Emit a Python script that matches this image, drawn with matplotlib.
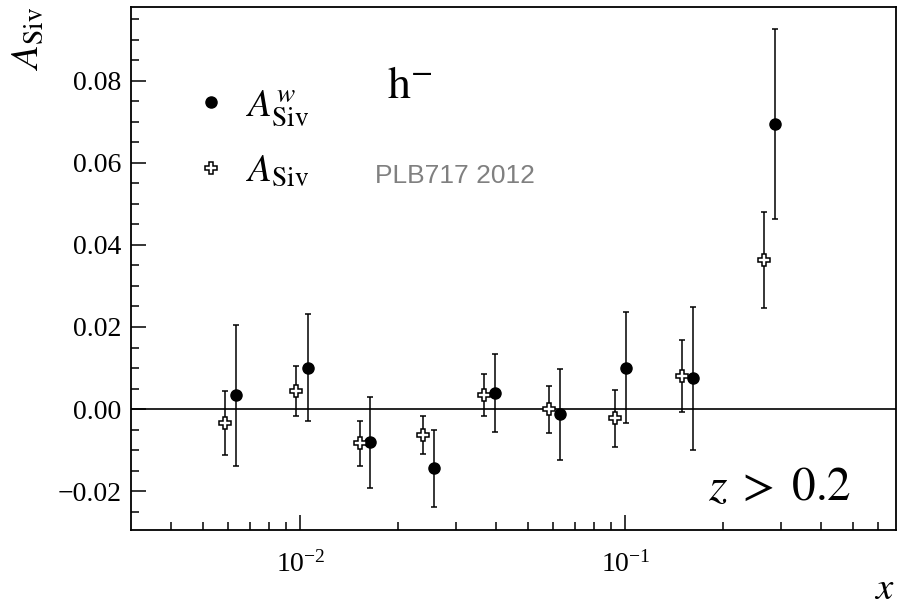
import matplotlib
matplotlib.use("Agg")
import matplotlib.pyplot as plt
from matplotlib.ticker import LogLocator, LogFormatterMathtext, MultipleLocator

plt.rcParams['font.family'] = ['Liberation Serif', 'DejaVu Serif']
plt.rcParams['mathtext.fontset'] = 'stix'

# A_Siv (open crosses)
x_siv = [0.00585, 0.00972, 0.0152, 0.0239, 0.0368, 0.0581, 0.0931, 0.1497, 0.266]
y_siv = [-0.0035, 0.0044, -0.0084, -0.0063, 0.0035, -0.0001, -0.0023, 0.0080, 0.0363]
e_siv = [0.0078, 0.0060, 0.0055, 0.0047, 0.0051, 0.0058, 0.0070, 0.0088, 0.0117]

# weighted A_Siv (filled circles)
x_w = [0.00631, 0.01051, 0.01642, 0.02578, 0.0398, 0.0628, 0.1007, 0.1619, 0.288]
y_w = [0.0034, 0.0101, -0.0081, -0.0145, 0.0038, -0.0013, 0.0101, 0.0075, 0.0695]
e_w = [0.0172, 0.0131, 0.0111, 0.0093, 0.0095, 0.0111, 0.0136, 0.0174, 0.0232]

fig = plt.figure(figsize=(9, 6.14), dpi=100)
ax = fig.add_axes([0.1456, 0.1368, 0.8500, 0.8523])

ax.axhline(0, color='black', lw=1.2, zorder=1)

ax.errorbar(x_siv, y_siv, yerr=e_siv, fmt='none', ecolor='black',
            elinewidth=1.1, capsize=2.5, capthick=1.1, zorder=2)
ax.errorbar(x_w, y_w, yerr=e_w, fmt='none', ecolor='black',
            elinewidth=1.1, capsize=2.5, capthick=1.1, zorder=2)
p_w, = ax.plot(x_w, y_w, 'o', color='black', ms=8, zorder=3,
               label=r'$A_{\mathrm{Siv}}^{w}$')
p_s, = ax.plot(x_siv, y_siv, 'P', mfc='white', mec='black', mew=1.1, ms=8.5,
               zorder=3, label=r'$A_{\mathrm{Siv}}$')

ax.set_xscale('log')
ax.set_xlim(0.00301, 0.68)
ax.set_ylim(-0.0295, 0.0981)

ax.xaxis.set_major_locator(LogLocator(base=10))
ax.xaxis.set_minor_locator(LogLocator(base=10, subs=range(2, 10)))
ax.xaxis.set_major_formatter(LogFormatterMathtext())
ax.yaxis.set_major_locator(MultipleLocator(0.02))
ax.yaxis.set_minor_locator(MultipleLocator(0.005))
ax.yaxis.set_major_formatter(plt.FuncFormatter(lambda v, p: f'{v:.2f}'.replace('-', '\u2212')))

ax.tick_params(which='both', direction='in', top=False, right=False, labelsize=20, width=1.1)
ax.tick_params(which='major', length=11, pad=7)
ax.tick_params(which='minor', length=5.5)
ax.tick_params(axis='x', which='major', pad=15)
for s in ax.spines.values():
    s.set_linewidth(1.3)

leg = ax.legend(handles=[p_w, p_s], loc='upper left', bbox_to_anchor=(0.089, 0.845),
                frameon=False, fontsize=28, handlelength=0.6, handletextpad=0.6,
                labelspacing=0.65, borderpad=0, borderaxespad=0)

ax.text(0.365, 0.847, r'$\mathrm{h}^{-}$', transform=ax.transAxes, fontsize=33,
        ha='center', va='center')
ax.text(0.319, 0.677, 'PLB717 2012', transform=ax.transAxes, fontsize=19,
        color='#808080', ha='left', va='center', family='Liberation Sans')
ax.text(0.754, 0.057, r'$z\;>\;0.2$', transform=ax.transAxes, fontsize=34,
        ha='left', va='baseline')

ax.set_ylabel(r'$A_{\mathrm{Siv}}$', fontsize=28, loc='top')
ax.yaxis.set_label_coords(-0.11, 1.0)
# x label sits in the bottom right corner of the figure
fig.text(0.994, 0.025, r'$x$', fontsize=28, ha='right', va='baseline')

fig.savefig('out.png', dpi=100)
